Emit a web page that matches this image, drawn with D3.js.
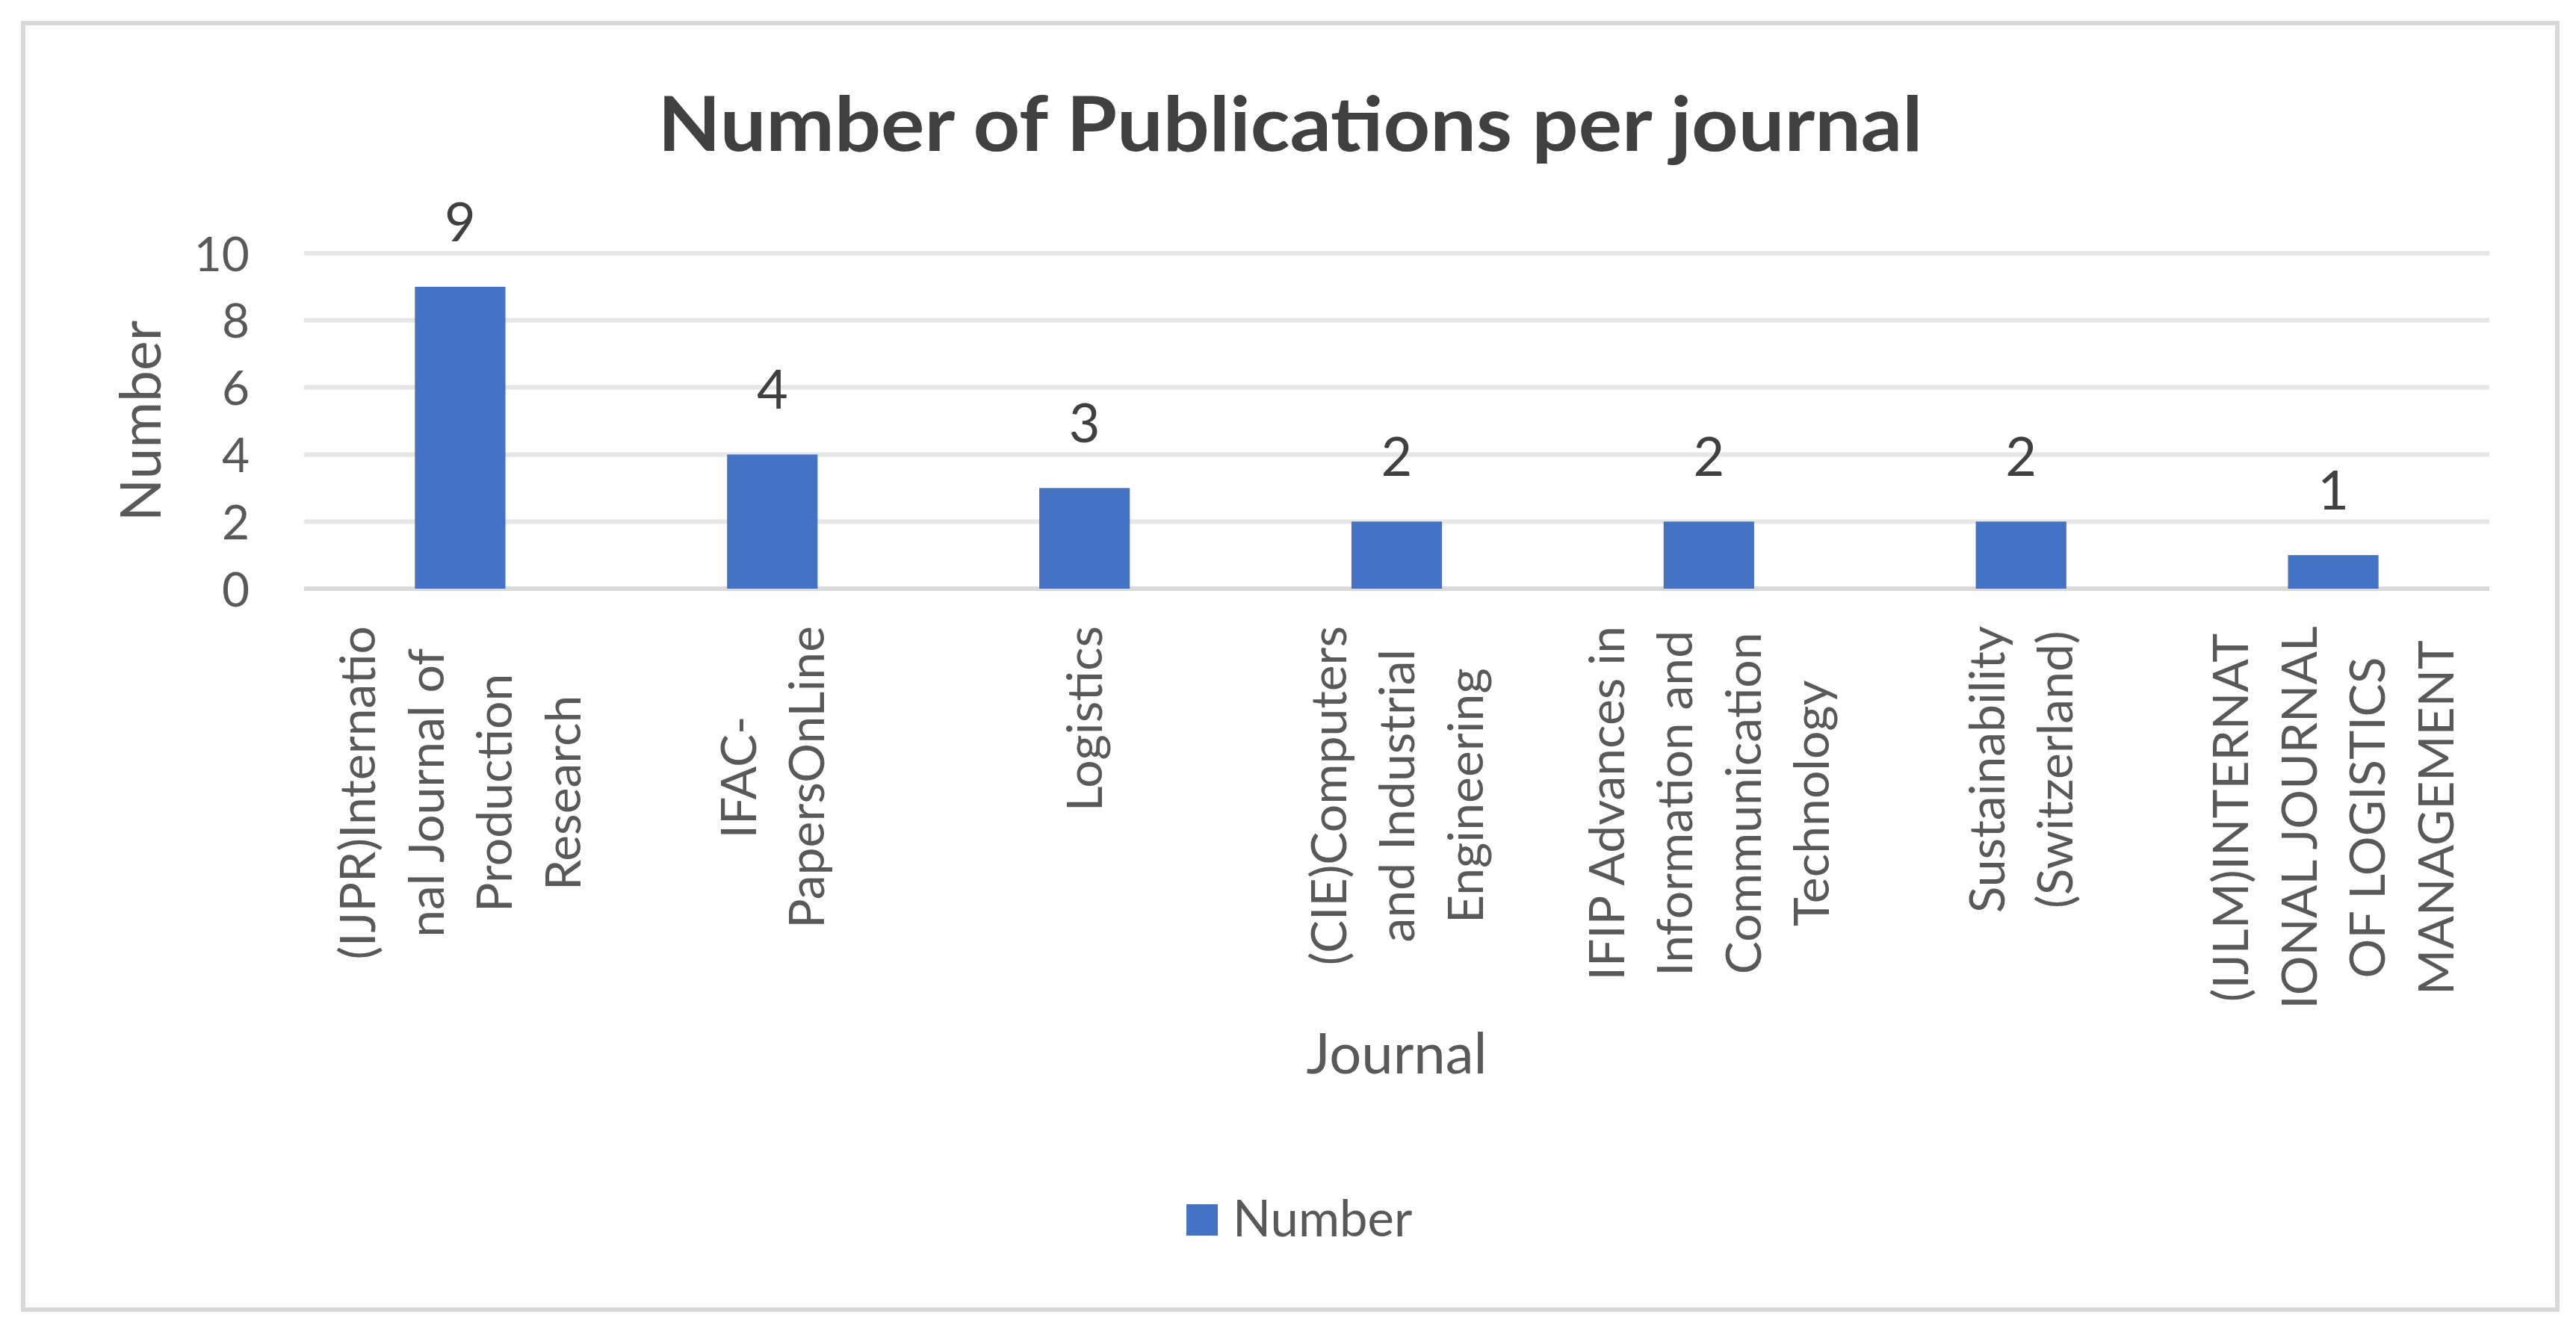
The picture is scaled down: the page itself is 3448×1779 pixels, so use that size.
<!DOCTYPE html>
<html>
<head>
<meta charset="utf-8">
<script src="https://cdn.jsdelivr.net/npm/d3@7"></script>
<style>
  html, body { margin: 0; padding: 0; background: #fff; }
  svg { display: block; }
  text { font-family: Lato, "Open Sans", sans-serif; }
</style>
</head>
<body>
<script>
const chartTitle = "Number of Publications per journal";
const categories = [
  "(IJPR)International Journal of Production Research",
  "IFAC-PapersOnLine",
  "Logistics",
  "(CIE)Computers and Industrial Engineering",
  "IFIP Advances in Information and Communication Technology",
  "Sustainability (Switzerland)",
  "(IJLM)INTERNATIONAL JOURNAL OF LOGISTICS MANAGEMENT"
];
const categoryLabelLines = [
  ["(IJPR)Internatio", "nal Journal of", "Production", "Research"],
  ["IFAC-", "PapersOnLine"],
  ["Logistics"],
  ["(CIE)Computers", "and Industrial", "Engineering"],
  ["IFIP Advances in", "Information and", "Communication", "Technology"],
  ["Sustainability", "(Switzerland)"],
  ["(IJLM)INTERNAT", "IONAL JOURNAL", "OF LOGISTICS", "MANAGEMENT"]
];
const values = [9, 4, 3, 2, 2, 2, 1];
const yTicks = [0, 2, 4, 6, 8, 10];
const seriesName = "Number";
const xAxisTitle = "Journal";
const yAxisTitle = "Number";

const W = 3448, H = 1779;
const plot = { left: 407, right: 3332, top: 339, bottom: 788 };
const barColor = "#4472C4";

const svg = d3.select("body").append("svg").attr("width", W).attr("height", H);
svg.append("rect").attr("width", W).attr("height", H).attr("fill", "#fff");

// chart border
svg.append("rect").attr("x", 31).attr("y", 31).attr("width", 3392).attr("height", 1722)
  .attr("fill", "#fff").attr("stroke", "#D9D9D9").attr("stroke-width", 6);

const x = d3.scaleBand().domain(categories).range([plot.left, plot.right])
  .paddingInner(0.71).paddingOuter(0.355);
const y = d3.scaleLinear().domain([0, 10]).range([plot.bottom, plot.top]);

// gridlines
svg.append("g").selectAll("line").data(yTicks).join("line")
  .attr("x1", plot.left).attr("x2", plot.right)
  .attr("y1", d => y(d)).attr("y2", d => y(d))
  .attr("stroke", d => d === 0 ? "#D9D9D9" : "#E6E6E6")
  .attr("stroke-width", 6);

// y axis labels
const yAxis = d3.axisLeft(y).tickValues(yTicks).tickSize(0).tickPadding(73).tickFormat(d3.format("d"));
const gy = svg.append("g").attr("transform", `translate(${plot.left},0)`).call(yAxis);
gy.select(".domain").remove();
gy.selectAll("text").attr("font-family", "Lato").attr("font-size", 64).attr("fill", "#595959")
  .attr("dy", "0.36em");

// bars
svg.append("g").selectAll("rect").data(values).join("rect")
  .attr("x", (d, i) => x(categories[i]))
  .attr("width", x.bandwidth())
  .attr("y", d => y(d))
  .attr("height", d => y(0) - y(d))
  .attr("fill", barColor);

// data labels
svg.append("g").selectAll("text").data(values).join("text")
  .attr("x", (d, i) => x(categories[i]) + x.bandwidth() / 2)
  .attr("y", d => y(d) - 61)
  .attr("text-anchor", "middle")
  .attr("font-size", 72).attr("fill", "#404040")
  .text(d => d);

// category labels (rotated, wrapped)
const lineH = 91.5, capH = 47, labelTop = 838;
categoryLabelLines.forEach((lines, i) => {
  const cx = x(categories[i]) + x.bandwidth() / 2;
  const g = svg.append("g");
  const texts = lines.map((ln, j) => g.append("text")
    .attr("font-size", 66).attr("fill", "#595959")
    .attr("text-anchor", "middle").text(ln));
  const maxLen = d3.max(texts, t => t.node().getComputedTextLength());
  const cy = labelTop + maxLen / 2;
  const n = lines.length;
  texts.forEach((t, j) => {
    const bx = cx + (j - (n - 1) / 2) * lineH + capH / 2;
    t.attr("transform", `translate(${bx},${cy}) rotate(-90)`);
  });
});

// title
svg.append("text").attr("x", 1727).attr("y", 202).attr("text-anchor", "middle")
  .attr("font-size", 101).attr("font-weight", "bold").attr("fill", "#404040")
  .attr("textLength", 1693).attr("lengthAdjust", "spacingAndGlyphs")
  .text(chartTitle);

// axis titles
svg.append("text").attr("x", (plot.left + plot.right) / 2).attr("y", 1437)
  .attr("text-anchor", "middle").attr("font-size", 76).attr("fill", "#595959")
  .text(xAxisTitle);
svg.append("text").attr("transform", `translate(215,${(plot.top + plot.bottom) / 2}) rotate(-90)`)
  .attr("text-anchor", "middle").attr("font-size", 75).attr("fill", "#595959")
  .text(yAxisTitle);

// legend
const lg = svg.append("g");
lg.append("rect").attr("x", 1588).attr("y", 1612).attr("width", 42).attr("height", 42).attr("fill", barColor);
lg.append("text").attr("x", 1650).attr("y", 1655).attr("font-size", 67).attr("fill", "#595959").text(seriesName);
</script>
</body>
</html>
